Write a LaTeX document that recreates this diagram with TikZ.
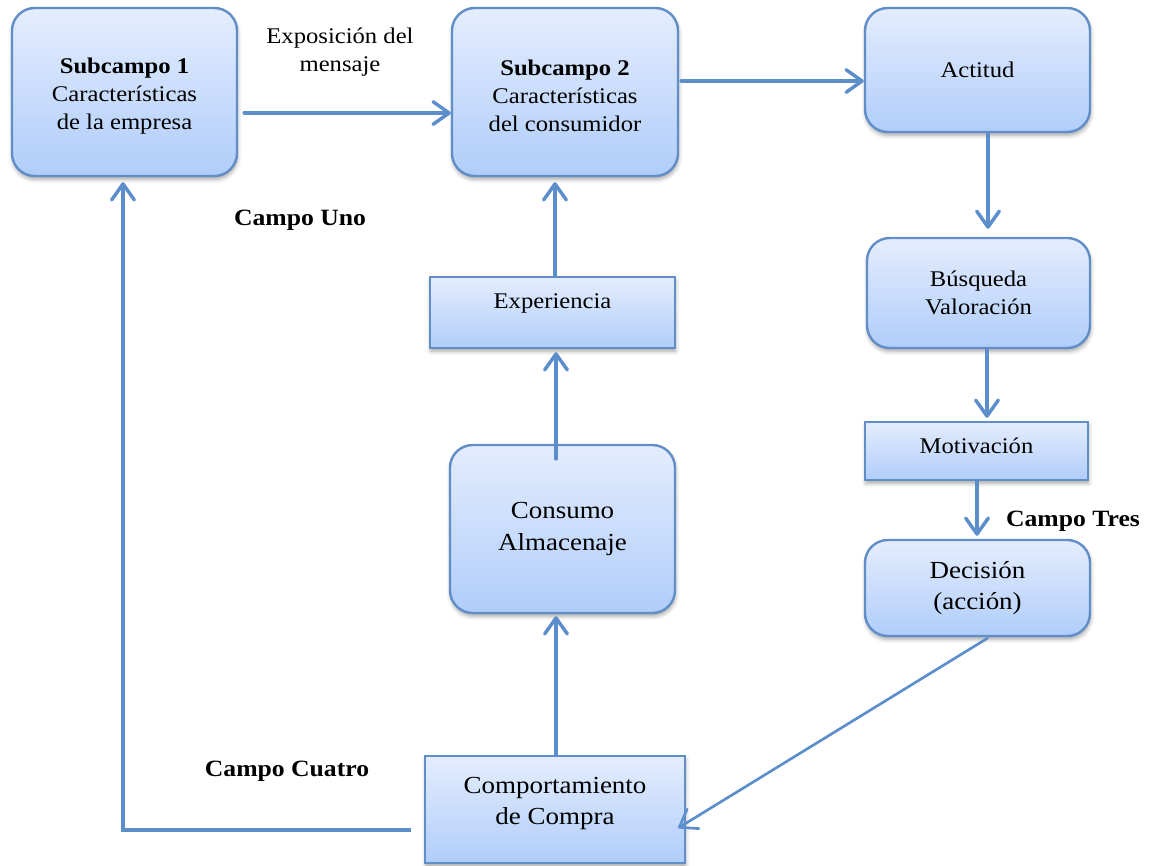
\documentclass[tikz,border=0pt]{standalone}
\usepackage{fontspec}
\setmainfont{Liberation Serif}[FakeStretch=1.1]
\usetikzlibrary{arrows.meta,calc,shadows.blur}
\definecolor{boxline}{RGB}{98,142,200}
\definecolor{boxtop}{RGB}{228,237,253}
\definecolor{boxbot}{RGB}{176,205,250}
\definecolor{arrowblue}{RGB}{92,142,204}
\begin{document}
\begin{tikzpicture}[x=0.75pt,y=-0.75pt,
  box/.style={draw=boxline, line width=1.8pt, top color=boxtop, bottom color=boxbot,
    align=center, inner sep=2pt,
    blur shadow={shadow xshift=0.5pt, shadow yshift=-2.5pt, shadow blur radius=3pt, shadow opacity=35}},
  rbox/.style={box, rounded corners=17pt},
  small/.style={font=\fontsize{16.8}{21}\selectfont},
  large/.style={font=\fontsize{18.4}{23.5}\selectfont},
  arr/.style={draw=arrowblue, line width=2.6pt, line cap=round,
    -{Straight Barb[length=12pt,width=17pt,round]}},
  fieldlbl/.style={font=\fontsize{17.5}{20}\bfseries\selectfont}
]
\useasboundingbox (0,0) rectangle (1153,865);

% boxes
\node[rbox, small, minimum width=168.75pt, minimum height=126pt, text height=60pt] (s1) at (124.5,92)
  {\textbf{Subcampo 1}\\Características\\de la empresa};
\node[rbox, small, minimum width=169.5pt, minimum height=126pt, text height=60pt] (s2) at (565,92)
  {\textbf{Subcampo 2}\\Características\\del consumidor};
\node[rbox, small, minimum width=168.75pt, minimum height=93pt] (act) at (977.5,70) {Actitud};
\node[rbox, small, minimum width=167.25pt, minimum height=82.5pt] (bus) at (978.5,293)
  {Búsqueda\\Valoración};
\node[box, small, minimum width=167.25pt, minimum height=43.5pt, text depth=7.5pt] (mot) at (976.5,451)
  {Motivación};
\node[rbox, large, minimum width=168.75pt, minimum height=72pt] (dec) at (977.5,588)
  {Decisión\\(acción)};
\node[box, small, minimum width=183.75pt, minimum height=53.25pt, text depth=17pt] (exp) at (552.5,312.5)
  {Experiencia};
\node[rbox, large, minimum width=168.75pt, minimum height=126pt] (con) at (562.5,529)
  {Consumo\\Almacenaje};
\node[box, large, minimum width=195pt, minimum height=80.25pt, text depth=12.5pt] (com) at (555,809.5)
  {Comportamiento\\de Compra};

% free labels
\node[small, align=center] (expo) at (340,52) {Exposición del\\mensaje};
\node[fieldlbl] (uno) at (300,220) {Campo Uno};
\node[fieldlbl] (tres) at (1073,521) {Campo Tres};
\node[fieldlbl] (cuatro) at (287,771) {Campo Cuatro};

% connectors
\draw[arr] ($(s1.east)+(6,21)$) -- ($(s2.west)+(0,21)$);
\draw[arr] ($(s2.east)+(2,-11)$) -- ($(act.west)+(0,11)$);
\draw[arr] ($(act.south)+(10.5,0)$) -- ($(bus.north)+(9.5,-8)$);
\draw[arr] ($(bus.south)+(8.5,0)$) -- ($(mot.north)+(10.5,-3)$);
\draw[arr] ($(mot.south)+(0.5,0)$) -- ($(dec.north)+(-0.5,-3)$);
\draw[arr, line width=2pt] ($(dec.south)+(10,1)$) -- ($(com.east)+(-8,18.5)$);
\draw[arr] ($(com.north)+(1,0)$) -- ($(con.south)+(-6.5,2)$);
\draw[arr] ($(con.north)+(-6.5,15)$) -- ($(exp.south)+(3.5,3)$);
\draw[arr] ($(exp.north)+(2.5,0)$) -- ($(s2.south)+(-10,5)$);
\draw[arr, line cap=butt] ($(com.west)+(-13,20.5)$) -| ($(s1.south)+(-1.5,5)$);
\end{tikzpicture}
\end{document}
